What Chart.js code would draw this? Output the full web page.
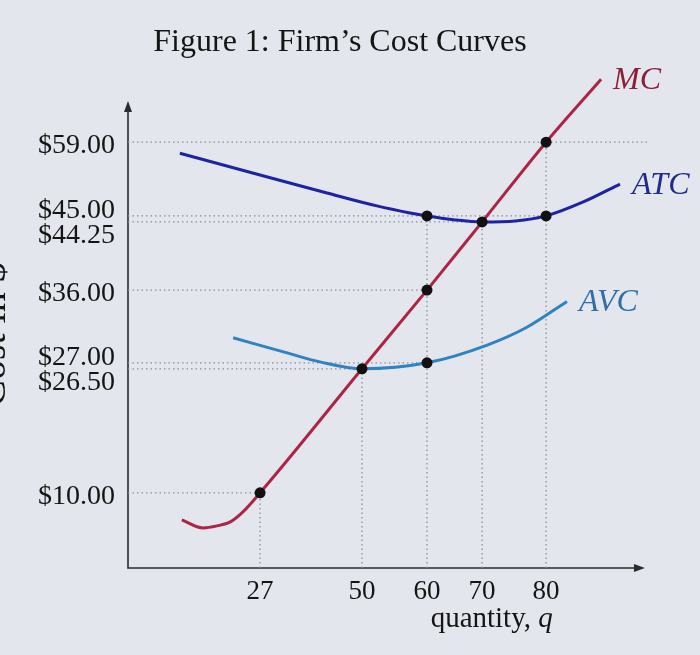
<!DOCTYPE html>
<html>
<head>
<meta charset="utf-8">
<title>Figure 1: Firm's Cost Curves</title>
<script src="https://cdn.jsdelivr.net/npm/chart.js@4.4.1/dist/chart.umd.min.js"></script>
<style>
  html, body { margin: 0; padding: 0; background: #e3e7ed; }
  #wrap { width: 700px; height: 655px; }
</style>
</head>
<body>
<div id="wrap"><canvas id="costChart"></canvas></div>
<script>
  // ticks on the axes
  const qTicks = [27, 50, 60, 70, 80];
  const priceTicks = [59, 45, 44.25, 36, 27, 26.5, 10];

  // curves (quantity, cost in $)
  const mcQ    = [11, 15.3, 18.2, 20.9, 23.5, 27, 50, 60, 70, 80, 90.8];
  const mcCost = [6.4, 5.33, 5.6, 6.13, 7.47, 10, 26.5, 36, 44.25, 59, 65.1];

  const atcQ    = [10.6, 27, 42.1, 52.3, 57.4, 60, 65.1, 70, 75.2, 80, 87.3, 94.5];
  const atcCost = [56.9, 52.76, 49.35, 46.9, 45.57, 45, 44.5, 44.25, 44.37, 45, 47.65, 51.05];

  const avcQ    = [21.5, 33.1, 40.5, 50, 60, 70.8, 77, 84.1];
  const avcCost = [30.1, 28.23, 27.12, 26.5, 27, 29.2, 31.4, 34.6];

  // marked points
  const dotQ    = [27, 50, 60, 60, 60, 70, 80, 80];
  const dotCost = [10, 26.5, 27, 36, 45, 44.25, 45, 59];

  // the figure is schematic, not to scale: each axis value sits at a fixed
  // share of the axis length (value, share)
  const xKnots = [[0, 0], [27, 0.254], [50, 0.45], [60, 0.575], [70, 0.681], [80, 0.804], [100, 1]];
  const yKnots = [[0, 0], [10, 0.151], [26.5, 0.400], [27, 0.412], [36, 0.558], [44.25, 0.695], [45, 0.707], [59, 0.855], [66, 1]];

  function interp(knots, v, from, to) {
    for (let i = 1; i < knots.length; i++) {
      const a = knots[i - 1], b = knots[i];
      if (v <= b[from] || i === knots.length - 1) {
        return a[to] + (v - a[from]) * (b[to] - a[to]) / (b[from] - a[from]);
      }
    }
  }

  class SchematicScale extends Chart.LinearScale {
    knots() { return this.axis === 'x' ? xKnots : yKnots; }
    getPixelForValue(value) {
      if (value === null || value === undefined || isNaN(value)) return NaN;
      return this.getPixelForDecimal(interp(this.knots(), value, 0, 1));
    }
    getValueForPixel(pixel) {
      return interp(this.knots(), this.getDecimalForPixel(pixel), 1, 0);
    }
  }
  SchematicScale.id = 'schematic';
  SchematicScale.defaults = Chart.LinearScale.defaults;
  Chart.register(SchematicScale);

  const serif = "'Liberation Serif', 'DejaVu Serif', serif";
  const pts = (qs, cs) => qs.map((q, i) => ({ x: q, y: cs[i] }));

  const curve = (label, q, c, color, labelColor) => ({
    label: label,
    data: pts(q, c),
    borderColor: color,
    labelColor: labelColor,
    borderWidth: 3,
    pointRadius: 0,
    cubicInterpolationMode: 'monotone',
    clip: false,
    order: 1
  });

  // dotted guides: from each axis out to the marked points
  const guides = [];
  priceTicks.forEach(p => {
    const qs = dotQ.filter((q, i) => dotCost[i] === p);
    const reach = p === 59 ? 100 : Math.max(...qs); // the $59 line runs across
    guides.push([{ x: 0, y: p }, { x: reach, y: p }]);
  });
  qTicks.forEach(q => {
    const top = Math.max(...dotCost.filter((c, i) => dotQ[i] === q));
    guides.push([{ x: q, y: 0 }, { x: q, y: top }]);
  });

  const datasets = [
    {
      label: 'points',
      data: pts(dotQ, dotCost),
      showLine: false,
      pointRadius: 5.5,
      pointBackgroundColor: '#111',
      pointBorderWidth: 0,
      order: 0
    },
    curve('MC', mcQ, mcCost, '#ad2445', '#8b1f3a'),
    curve('ATC', atcQ, atcCost, '#1f23a3', '#1f2a8c'),
    curve('AVC', avcQ, avcCost, '#2f83c2', '#2f6fa8')
  ];
  guides.forEach(g => datasets.push({
    label: 'guide',
    data: g,
    borderColor: '#8a9099',
    borderWidth: 1.3,
    borderDash: [1.5, 3],
    pointRadius: 0,
    order: 2
  }));

  const labelNudge = { 45: -9, 44.25: 10, 27: -9, 26.5: 10 };

  function arrow(ctx, x, y, dx, dy) {
    const len = 11, half = 4;
    ctx.beginPath();
    ctx.moveTo(x, y);
    ctx.lineTo(x - dx * len - dy * half, y - dy * len + dx * half);
    ctx.lineTo(x - dx * len + dy * half, y - dy * len - dx * half);
    ctx.closePath();
    ctx.fill();
  }

  const figurePlugin = {
    id: 'figure',
    beforeDraw(chart) {
      const ctx = chart.ctx;
      ctx.save();
      ctx.fillStyle = '#e3e7ed';
      ctx.fillRect(0, 0, chart.width, chart.height);
      ctx.restore();
    },
    beforeDatasetsDraw(chart) {
      const { ctx, scales: { x, y } } = chart;
      const x0 = x.getPixelForValue(0), y0 = y.getPixelForValue(0);
      const xEnd = x.getPixelForValue(99.4), yEnd = y.getPixelForValue(63);
      ctx.save();
      ctx.strokeStyle = '#2b2b2b';
      ctx.fillStyle = '#2b2b2b';
      ctx.lineWidth = 1.6;
      ctx.beginPath();
      ctx.moveTo(x0, yEnd + 6);
      ctx.lineTo(x0, y0);
      ctx.lineTo(xEnd - 6, y0);
      ctx.stroke();
      arrow(ctx, x0, yEnd, 0, -1);
      arrow(ctx, xEnd, y0, 1, 0);
      ctx.restore();
    },
    afterDraw(chart) {
      const { ctx, scales: { x, y } } = chart;
      const x0 = x.getPixelForValue(0), y0 = y.getPixelForValue(0);
      ctx.save();
      ctx.fillStyle = '#151515';
      ctx.textBaseline = 'alphabetic';

      // title
      ctx.font = '32px ' + serif;
      ctx.textAlign = 'center';
      ctx.fillText("Figure 1: Firm\u2019s Cost Curves", 340, 51);

      // y tick labels
      ctx.font = '28px ' + serif;
      ctx.textAlign = 'right';
      priceTicks.forEach(p => {
        ctx.fillText('$' + p.toFixed(2), x0 - 13, y.getPixelForValue(p) + 11 + (labelNudge[p] || 0));
      });

      // x tick labels
      ctx.font = '27px ' + serif;
      ctx.textAlign = 'center';
      qTicks.forEach(q => ctx.fillText(String(q), x.getPixelForValue(q), y0 + 31));

      // x axis title
      ctx.textAlign = 'left';
      const tx = x.getPixelForValue(71.5);
      const part = 'quantity, ';
      ctx.font = '29px ' + serif;
      const w1 = ctx.measureText(part).width;
      ctx.font = 'italic 29px ' + serif;
      const w2 = ctx.measureText('q').width;
      ctx.font = '29px ' + serif;
      ctx.fillText(part, tx - (w1 + w2) / 2, y0 + 59);
      ctx.font = 'italic 29px ' + serif;
      ctx.fillText('q', tx - (w1 + w2) / 2 + w1, y0 + 59);

      // y axis title, partly off the left edge like the photo
      ctx.save();
      ctx.translate(5, y.getPixelForValue(30.5));
      ctx.rotate(-Math.PI / 2);
      ctx.font = '40px ' + serif;
      ctx.textAlign = 'center';
      ctx.fillText('Cost in $', 0, 0);
      ctx.restore();

      // curve names at the end of each curve
      ctx.font = 'italic 32px ' + serif;
      ctx.textAlign = 'left';
      chart.data.datasets.forEach((ds, i) => {
        if (!ds.labelColor) return;
        const els = chart.getDatasetMeta(i).data;
        const last = els[els.length - 1];
        ctx.fillStyle = ds.labelColor;
        ctx.fillText(ds.label, last.x + 12, last.y + 10);
      });
      ctx.restore();
    }
  };

  const costChart = new Chart(document.getElementById('costChart'), {
    type: 'line',
    data: { datasets: datasets },
    options: {
      responsive: true,
      maintainAspectRatio: false,
      animation: false,
      layout: { padding: { left: 128, right: 52, top: 70, bottom: 87 } },
      plugins: { legend: { display: false }, tooltip: { enabled: false } },
      scales: {
        x: { type: 'schematic', min: 0, max: 100, display: false },
        y: { type: 'schematic', min: 0, max: 66, display: false }
      }
    },
    plugins: [figurePlugin]
  });
</script>
</body>
</html>
